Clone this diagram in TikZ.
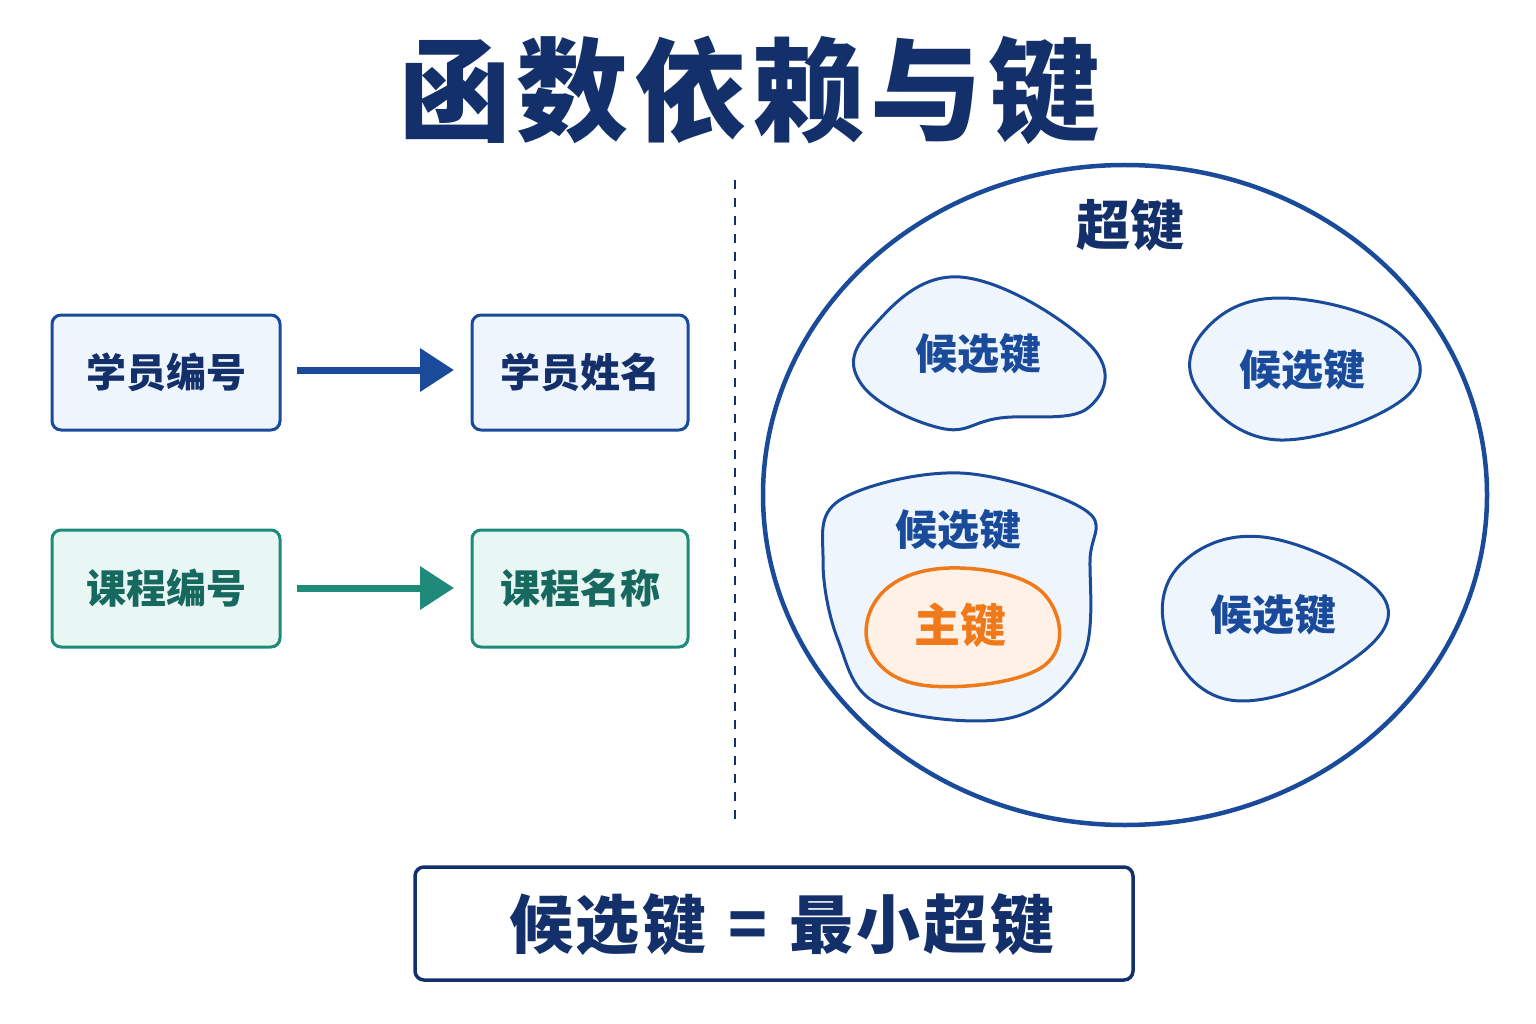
\documentclass[tikz,border=0pt]{standalone}
\usepackage{fontspec}
\setmainfont{Noto Sans CJK SC}
\usetikzlibrary{arrows.meta}
\definecolor{navy}{HTML}{14306B}
\definecolor{bl}{HTML}{1A4A9A}
\definecolor{blf}{HTML}{EEF5FD}
\definecolor{tl}{HTML}{1E8A7A}
\definecolor{tlt}{HTML}{17685E}
\definecolor{tlf}{HTML}{E9F7F4}
\definecolor{org}{HTML}{F07A1A}
\definecolor{orgf}{HTML}{FFF1E6}
\begin{document}
\begin{tikzpicture}[x=1pt,y=-1pt,
 bbox/.style={draw=bl,fill=blf,line width=3pt,rounded corners=9pt},
 tbox/.style={draw=tl,fill=tlf,line width=3pt,rounded corners=9pt},
 blob/.style={draw=bl,fill=blf,line width=3pt},
 lbl/.style={font=\bfseries\fontsize{40}{46}\selectfont},
 klbl/.style={font=\bfseries\fontsize{42}{48}\selectfont,text=bl}]
\useasboundingbox (0,0) rectangle (1536,1024);
\node[font=\bfseries\fontsize{112}{118}\selectfont,text=navy] (title) at (750,90) {函\hspace{6pt}数\hspace{6pt}依\hspace{6pt}赖\hspace{6pt}与\hspace{6pt}键};
% left
\draw[bbox] (52,315) rectangle (280,430); \node[lbl,text=navy] (a) at (166,372) {学员编号};
\draw[bbox] (472,315) rectangle (688,430); \node[lbl,text=navy] (b) at (580,372) {学员姓名};
\draw[tbox] (52,530) rectangle (280,647); \node[lbl,text=tlt] (c) at (166,588) {课程编号};
\draw[tbox] (472,530) rectangle (688,647); \node[lbl,text=tlt] (d) at (580,588) {课程名称};
\coordinate (a1) at (297,370); \coordinate (b1) at (454,370);
\coordinate (c1) at (297,588); \coordinate (d1) at (454,588);
\draw[bl,line width=7pt,-{Triangle[length=34pt,width=42pt]}] (a1)--(b1);
\draw[tl,line width=7pt,-{Triangle[length=34pt,width=42pt]}] (c1)--(d1);
\coordinate (t1) at (735,180); \coordinate (t2) at (735,820);
\draw[navy,line width=1.8pt,dash pattern=on 9pt off 9pt] (t1)--(t2);
% right
\draw[bl,line width=4.5pt] (1125,495) ellipse [x radius=362,y radius=330];
\node[font=\bfseries\fontsize{54}{60}\selectfont,text=navy] (sk) at (1130,225) {超键};
\draw[blob] plot[smooth cycle,tension=0.7] coordinates {(870,330)(960,277)(1090,345)(1088,408)(1000,418)(940,428)(862,385)};
\node[klbl] (k1) at (978,354) {候选键};
\draw[blob] plot[smooth cycle,tension=0.7] coordinates {(1205,330)(1280,298)(1395,330)(1408,395)(1280,440)(1198,390)};
\node[klbl] (k2) at (1302,370) {候选键};
\draw[blob] plot[smooth cycle,tension=0.6] coordinates {(840,500)(960,473)(1085,510)(1090,560)(1082,660)(1010,718)(880,705)(838,640)(823,560)};
\node[klbl] (k3) at (958,530) {候选键};
\draw[draw=org,fill=orgf,line width=3.5pt] plot[smooth cycle,tension=0.7] coordinates {(885,590)(960,568)(1045,595)(1045,665)(930,686)(870,650)};
\node[font=\bfseries\fontsize{46}{52}\selectfont,text=org] (pk) at (960,625) {主键};
\draw[blob] plot[smooth cycle,tension=0.7] coordinates {(1180,565)(1270,538)(1385,600)(1340,668)(1230,700)(1168,640)};
\node[klbl] (k4) at (1273,615) {候选键};
% bottom
\draw[navy,fill=white,line width=3.5pt,rounded corners=9pt] (415,867) rectangle (1133,980);
\node[font=\bfseries\fontsize{64}{70}\selectfont,text=navy] (f) at (782,925) {候\hspace{3pt}选\hspace{3pt}键\hspace{22pt}=\hspace{22pt}最\hspace{3pt}小\hspace{3pt}超\hspace{3pt}键};
\end{tikzpicture}
\end{document}
